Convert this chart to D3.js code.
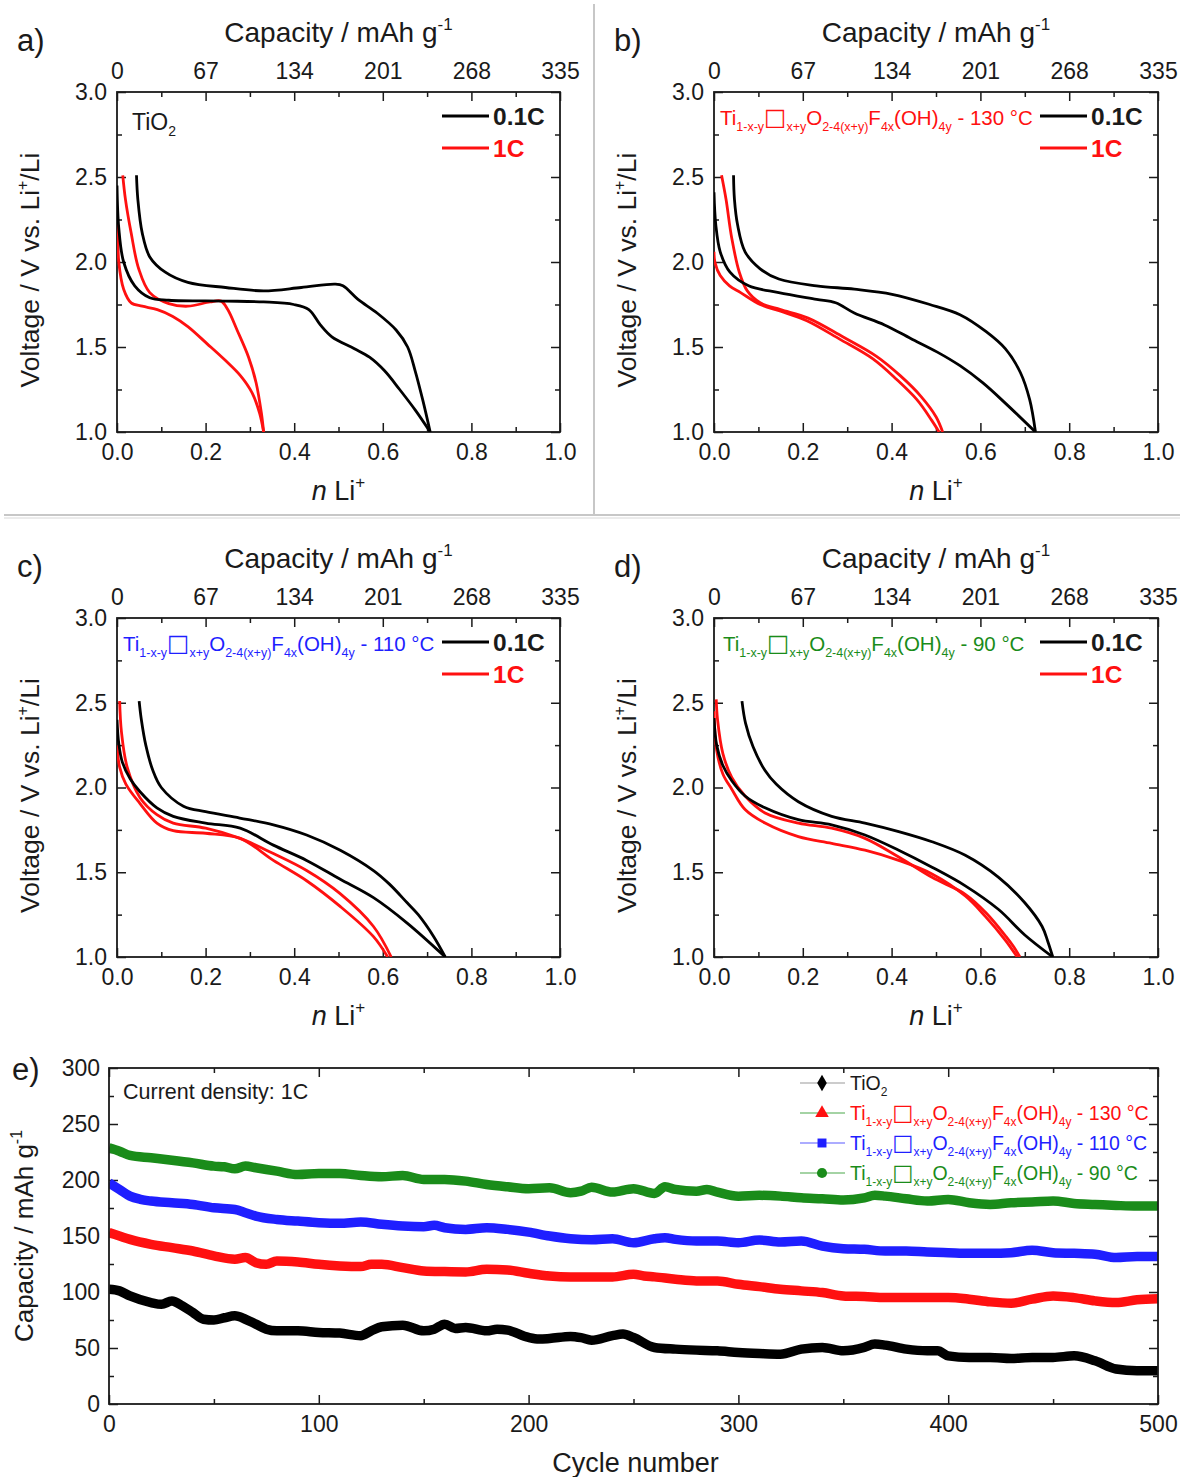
<!DOCTYPE html>
<html>
<head>
<meta charset="utf-8">
<script src="https://cdn.jsdelivr.net/npm/d3@7"></script>
<style>
  body { margin: 0; background: #fff; }
  svg text { font-family: "Liberation Sans", Arial, sans-serif; fill: #1a1a1a; }
</style>
</head>
<body>
<svg id="fig" width="1180" height="1477"></svg>
<script>
// ---- tick values ----
const nLiTicks = [0, 0.2, 0.4, 0.6, 0.8, 1.0];
const nLiMinor = [0.1, 0.3, 0.5, 0.7, 0.9];
const capTicks = [0, 67, 134, 201, 268, 335];
const voltTicks = [1.0, 1.5, 2.0, 2.5, 3.0];
const voltMinor = [1.25, 1.75, 2.25, 2.75];
const cycleTicks = [0, 100, 200, 300, 400, 500];
const cycleMinor = [50, 150, 250, 350, 450];
const capETicks = [0, 50, 100, 150, 200, 250, 300];
const capEMinor = [25, 75, 125, 175, 225, 275];

// ---- voltage profiles [n Li+, V] ----
// a) TiO2
const a_01C_dis = [[0.0,2.45],[0.004,2.2],[0.015,2.0],[0.04,1.86],[0.074,1.79],[0.117,1.775],[0.245,1.77],[0.331,1.765],[0.399,1.75],[0.433,1.72],[0.459,1.63],[0.485,1.56],[0.536,1.49],[0.570,1.44],[0.604,1.36],[0.638,1.25],[0.673,1.13],[0.707,1.0]];
const a_01C_cha = [[0.707,1.0],[0.69,1.19],[0.673,1.36],[0.656,1.50],[0.63,1.60],[0.587,1.70],[0.544,1.78],[0.51,1.86],[0.493,1.87],[0.416,1.85],[0.331,1.83],[0.245,1.85],[0.16,1.88],[0.109,1.94],[0.074,2.03],[0.057,2.17],[0.047,2.37],[0.044,2.51]];
const a_1C_dis = [[0.0,2.29],[0.002,2.15],[0.004,2.0],[0.015,1.84],[0.032,1.76],[0.057,1.74],[0.091,1.72],[0.126,1.68],[0.16,1.62],[0.203,1.52],[0.245,1.42],[0.279,1.33],[0.305,1.23],[0.322,1.11],[0.331,1.0]];
const a_1C_cha = [[0.331,1.0],[0.326,1.11],[0.314,1.29],[0.297,1.44],[0.271,1.60],[0.25,1.72],[0.235,1.77],[0.21,1.765],[0.16,1.74],[0.117,1.755],[0.074,1.82],[0.049,1.96],[0.032,2.17],[0.019,2.37],[0.013,2.51]];
// b) 130 °C
const b_01C_dis = [[0.0,2.41],[0.004,2.22],[0.014,2.06],[0.036,1.94],[0.078,1.86],[0.146,1.82],[0.231,1.78],[0.274,1.76],[0.316,1.70],[0.384,1.63],[0.443,1.55],[0.503,1.47],[0.554,1.39],[0.605,1.29],[0.656,1.17],[0.724,1.0]];
const b_01C_cha = [[0.724,1.0],[0.711,1.19],[0.69,1.35],[0.656,1.49],[0.613,1.59],[0.554,1.69],[0.486,1.75],[0.401,1.81],[0.316,1.84],[0.231,1.86],[0.146,1.90],[0.104,1.96],[0.07,2.06],[0.053,2.22],[0.046,2.37],[0.044,2.51]];
const b_1C_dis = [[0.0,2.06],[0.002,2.0],[0.014,1.92],[0.035,1.86],[0.06,1.82],[0.104,1.75],[0.15,1.71],[0.209,1.655],[0.284,1.545],[0.358,1.43],[0.411,1.31],[0.457,1.19],[0.49,1.07],[0.507,1.0]];
const b_1C_cha = [[0.515,1.0],[0.50,1.09],[0.466,1.21],[0.42,1.33],[0.366,1.445],[0.29,1.56],[0.212,1.67],[0.15,1.72],[0.104,1.76],[0.075,1.83],[0.057,1.94],[0.04,2.14],[0.027,2.37],[0.017,2.51]];
// c) 110 °C
const c_01C_dis = [[0.0,2.40],[0.004,2.26],[0.012,2.15],[0.03,2.05],[0.052,1.975],[0.09,1.88],[0.127,1.83],[0.2,1.79],[0.278,1.76],[0.353,1.66],[0.428,1.57],[0.503,1.46],[0.579,1.35],[0.655,1.20],[0.741,1.0]];
const c_01C_cha = [[0.741,1.0],[0.715,1.12],[0.68,1.25],[0.655,1.32],[0.615,1.43],[0.579,1.51],[0.504,1.63],[0.428,1.72],[0.353,1.78],[0.277,1.82],[0.2,1.857],[0.15,1.89],[0.1,2.0],[0.081,2.10],[0.065,2.25],[0.055,2.40],[0.05,2.51]];
const c_1C_dis = [[0.0,2.25],[0.006,2.12],[0.02,2.02],[0.052,1.905],[0.09,1.79],[0.127,1.745],[0.2,1.73],[0.278,1.70],[0.353,1.57],[0.428,1.45],[0.503,1.30],[0.579,1.12],[0.611,1.0]];
const c_1C_cha = [[0.619,1.0],[0.579,1.18],[0.503,1.375],[0.428,1.51],[0.353,1.61],[0.278,1.70],[0.2,1.76],[0.127,1.79],[0.09,1.84],[0.052,1.94],[0.023,2.12],[0.01,2.33],[0.006,2.51]];
// d) 90 °C
const d_01C_dis = [[0.0,2.41],[0.006,2.25],[0.02,2.13],[0.04,2.04],[0.07,1.95],[0.115,1.88],[0.19,1.81],[0.265,1.78],[0.34,1.72],[0.416,1.63],[0.491,1.53],[0.566,1.42],[0.641,1.28],[0.70,1.13],[0.763,1.0]];
const d_01C_cha = [[0.763,1.0],[0.752,1.09],[0.739,1.18],[0.70,1.32],[0.641,1.47],[0.566,1.60],[0.491,1.68],[0.416,1.74],[0.34,1.79],[0.265,1.83],[0.19,1.916],[0.14,2.02],[0.115,2.10],[0.088,2.24],[0.071,2.38],[0.063,2.51]];
const d_1C_dis = [[0.0,2.45],[0.006,2.22],[0.02,2.08],[0.04,1.99],[0.07,1.87],[0.115,1.79],[0.19,1.71],[0.265,1.67],[0.34,1.63],[0.416,1.57],[0.491,1.49],[0.566,1.36],[0.611,1.24],[0.656,1.10],[0.683,1.0]];
const d_1C_cha = [[0.689,1.0],[0.675,1.06],[0.658,1.12],[0.613,1.26],[0.566,1.37],[0.491,1.47],[0.416,1.59],[0.34,1.70],[0.265,1.76],[0.19,1.79],[0.115,1.85],[0.07,1.95],[0.04,2.06],[0.02,2.2],[0.008,2.4],[0.005,2.52]];

// ---- cycling at 1C [cycle, capacity mAh/g] ----
const cycTiO2 = [[0,102.5],[5,101],[10,96.5],[20,90.6],[25,89],[30,92],[35,87.6],[40,81.7],[45,75.7],[50,75],[55,77],[60,78.7],[65,75.7],[70,71.3],[75,66.8],[80,65.3],[90,65.3],[100,63.9],[110,63.3],[120,61],[125,65.3],[130,69],[140,70.4],[150,65.3],[155,66.8],[160,71.3],[165,67.4],[170,68.3],[180,65.3],[185,66.8],[190,66],[200,59.4],[205,58],[210,58.5],[220,60.3],[225,59.2],[230,57],[240,61],[245,62.4],[250,59.4],[260,50.5],[270,49],[280,48.1],[290,47.5],[300,46],[310,45.1],[320,44.5],[330,49],[340,50.5],[350,47.5],[360,50.5],[365,53.5],[370,52.6],[380,49],[390,47.5],[395,47.5],[400,43],[410,41.6],[420,41.6],[430,40.7],[440,41.6],[450,41.6],[460,43],[470,38.6],[480,31.2],[490,29.7],[500,29.7]];
const cyc130 = [[0,153],[5,150],[10,147],[20,142.6],[30,139.6],[40,136.6],[50,132.2],[60,129.2],[65,130.7],[70,126.2],[75,124.7],[80,127.7],[90,126.8],[100,124.7],[110,123.3],[120,122.7],[125,124.7],[130,124.7],[140,121.8],[150,118.8],[160,118.2],[170,117.9],[180,120.3],[190,119.7],[200,116.7],[210,114.3],[220,113.5],[230,113.5],[240,113.5],[250,115.8],[255,114.3],[260,113.5],[270,111.4],[280,109.9],[290,109.9],[300,106.9],[310,104.8],[320,102.5],[330,101],[340,99.5],[350,96.5],[360,95.9],[370,95],[380,95],[390,95],[400,95],[410,93.6],[420,91.2],[430,90],[440,93.6],[450,96.5],[460,95],[470,92.1],[480,90.6],[490,93],[500,94]];
const cyc110 = [[0,197.5],[5,191.6],[10,185.6],[15,182.7],[20,181.2],[30,179.7],[40,178.2],[50,175.2],[60,173.7],[65,170.8],[70,167.8],[80,164.8],[90,163.3],[100,161.9],[110,161.3],[120,162.5],[130,160.4],[140,158.9],[150,158.3],[155,159.5],[160,157.4],[170,155.9],[180,157.4],[190,155.9],[200,153.5],[210,150],[220,147.6],[230,146.7],[240,147.6],[250,144],[260,147.6],[265,148.5],[270,147],[280,145.5],[290,145.5],[300,144],[310,146.4],[320,144.6],[330,145.5],[340,141],[350,138.7],[360,138.1],[370,136.6],[380,136.6],[390,135.7],[400,135.1],[410,134.5],[420,134.5],[430,135.1],[440,137.2],[450,135.1],[460,134.5],[470,133.7],[480,130.7],[490,131.6],[500,131.6]];
const cyc90 = [[0,228.7],[5,225.7],[10,221.9],[20,219.8],[30,217.7],[40,215.3],[50,212.4],[55,211.8],[60,210],[65,212.4],[70,210.9],[80,207.9],[90,204.9],[100,205.8],[110,205.8],[120,204],[130,202.9],[140,204],[150,200.5],[160,200.5],[170,199],[180,196],[190,193.9],[200,192.2],[210,193],[220,188.6],[225,190],[230,193.5],[240,189.2],[250,192.2],[260,188],[265,193.9],[270,191.6],[280,190],[285,191.6],[290,189.2],[300,185.6],[310,186.3],[320,185.6],[330,184.1],[340,183.2],[350,182.1],[360,184.1],[365,186.3],[370,185.6],[380,183.2],[390,181.2],[400,182.7],[410,179.7],[420,178.2],[430,179.7],[440,180.3],[450,181.2],[460,179.1],[470,178.2],[480,177.3],[490,176.7],[500,176.7]];

const RED = '#ff1010', BLUE = '#1f1fff', GREEN = '#1a8c1a';

const svg = d3.select('#fig');

// separators between panels
svg.append('line').attr('x1', 594).attr('x2', 594).attr('y1', 4).attr('y2', 514)
  .attr('stroke', '#b4b4b4').attr('stroke-width', 1.5);
svg.append('line').attr('x1', 4).attr('x2', 1180).attr('y1', 515).attr('y2', 515)
  .attr('stroke', '#b4b4b4').attr('stroke-width', 1.5);
svg.append('line').attr('x1', 4).attr('x2', 1180).attr('y1', 518).attr('y2', 518)
  .attr('stroke', '#d8d8d8').attr('stroke-width', 1);

// Ti(1-x-y)□(x+y)O(2-4(x+y))F(4x)(OH)(4y) label with subscripts
function formula(g, x, y, suffix, color, size, subSize) {
  const t = g.append('text').attr('x', x).attr('y', y).attr('font-size', size)
    .style('fill', color);
  const parts = [['Ti', 0], ['1-x-y', 1], ['\u25A1', 2], ['x+y', 1], ['O', 0],
    ['2-4(x+y)', 1], ['F', 0], ['4x', 1], ['(OH)', 0], ['4y', 1], [suffix, 0]];
  let down = false;
  parts.forEach(([s, kind]) => {
    const ts = t.append('tspan').text(s);
    if (kind === 1) { ts.attr('font-size', subSize).attr('dy', down ? 0 : 6); down = true; }
    else {
      ts.attr('dy', down ? -6 : 0); down = false;
      if (kind === 2) ts.attr('font-size', size * 1.15).attr('font-family', 'DejaVu Sans');
    }
  });
  return t;
}

function frameTicks(g, axis) {
  g.call(axis);
  g.select('.domain').remove();
  g.selectAll('.tick line').attr('stroke', '#1a1a1a').attr('stroke-width', 1.5);
}

// ---- panels a-d ----
const panels = [
  { tag: 'a)', left: 117, right: 560, top: 92, bottom: 432, dis01: a_01C_dis, cha01: a_01C_cha, dis1: a_1C_dis, cha1: a_1C_cha, label: 'TiO2' },
  { tag: 'b)', left: 714, right: 1158, top: 92, bottom: 432, dis01: b_01C_dis, cha01: b_01C_cha, dis1: b_1C_dis, cha1: b_1C_cha, label: ' - 130 \u00B0C', color: RED },
  { tag: 'c)', left: 117, right: 560, top: 618, bottom: 957, dis01: c_01C_dis, cha01: c_01C_cha, dis1: c_1C_dis, cha1: c_1C_cha, label: ' - 110 \u00B0C', color: BLUE },
  { tag: 'd)', left: 714, right: 1158, top: 618, bottom: 957, dis01: d_01C_dis, cha01: d_01C_cha, dis1: d_1C_dis, cha1: d_1C_cha, label: ' - 90 \u00B0C', color: GREEN }
];

panels.forEach((p, i) => {
  const w = p.right - p.left, h = p.bottom - p.top;
  const g = svg.append('g').attr('transform', `translate(${p.left},${p.top})`);
  const x = d3.scaleLinear().domain([0, 1]).range([0, w]);
  const xCap = d3.scaleLinear().domain([0, 335]).range([0, w]);
  const y = d3.scaleLinear().domain([1, 3]).range([h, 0]);

  const clipId = 'clip' + i;
  g.append('clipPath').attr('id', clipId).append('rect').attr('width', w).attr('height', h);

  // axes with inward ticks
  const bx = g.append('g').attr('transform', `translate(0,${h})`);
  frameTicks(bx, d3.axisBottom(x).tickValues(nLiTicks).tickFormat(d3.format('.1f')).tickSizeInner(-9).tickSizeOuter(0).tickPadding(12));
  bx.selectAll('text').attr('font-size', 23);
  frameTicks(g.append('g').attr('transform', `translate(0,${h})`),
    d3.axisBottom(x).tickValues(nLiMinor).tickFormat('').tickSizeInner(-5).tickSizeOuter(0));

  const tx = g.append('g');
  frameTicks(tx, d3.axisTop(xCap).tickValues(capTicks).tickSizeInner(-9).tickSizeOuter(0).tickPadding(13));
  tx.selectAll('text').attr('font-size', 23);
  frameTicks(g.append('g'), d3.axisTop(x).tickValues(nLiMinor).tickFormat('').tickSizeInner(-5).tickSizeOuter(0));

  const ly = g.append('g');
  frameTicks(ly, d3.axisLeft(y).tickValues(voltTicks).tickFormat(d3.format('.1f')).tickSizeInner(-9).tickSizeOuter(0).tickPadding(10));
  ly.selectAll('text').attr('font-size', 23);
  frameTicks(g.append('g'), d3.axisLeft(y).tickValues(voltMinor).tickFormat('').tickSizeInner(-5).tickSizeOuter(0));
  frameTicks(g.append('g').attr('transform', `translate(${w},0)`),
    d3.axisRight(y).tickValues(voltTicks).tickFormat('').tickSizeInner(-9).tickSizeOuter(0));
  frameTicks(g.append('g').attr('transform', `translate(${w},0)`),
    d3.axisRight(y).tickValues(voltMinor).tickFormat('').tickSizeInner(-5).tickSizeOuter(0));

  g.append('rect').attr('width', w).attr('height', h).attr('fill', 'none')
    .attr('stroke', '#1a1a1a').attr('stroke-width', 1.8);

  // curves
  const line = d3.line().x(d => x(d[0])).y(d => y(d[1])).curve(d3.curveCatmullRom.alpha(0.5));
  const cg = g.append('g').attr('clip-path', `url(#${clipId})`);
  [[p.dis1, RED], [p.cha1, RED], [p.dis01, '#000'], [p.cha01, '#000']].forEach(([data, col]) => {
    cg.append('path').datum(data).attr('d', line).attr('fill', 'none')
      .attr('stroke', col).attr('stroke-width', 2.8).attr('stroke-linejoin', 'round');
  });

  // legend
  const lx = w - 118;
  g.append('line').attr('x1', lx).attr('x2', lx + 47).attr('y1', 24).attr('y2', 24).attr('stroke', '#000').attr('stroke-width', 2.8);
  g.append('text').attr('x', lx + 51).attr('y', 33).attr('font-size', 24.5).attr('font-weight', 'bold').text('0.1C');
  g.append('line').attr('x1', lx).attr('x2', lx + 47).attr('y1', 56).attr('y2', 56).attr('stroke', RED).attr('stroke-width', 2.8);
  g.append('text').attr('x', lx + 51).attr('y', 65).attr('font-size', 24.5).attr('font-weight', 'bold').style('fill', RED).text('1C');

  // sample label
  if (p.color) {
    formula(g, i === 3 ? 9 : 6, 33, p.label, p.color, 20.5, 12.5);
  } else {
    const t = g.append('text').attr('x', 15).attr('y', 38).attr('font-size', 23);
    t.append('tspan').text('TiO');
    t.append('tspan').attr('font-size', 14).attr('dy', 6).text('2');
  }

  // axis titles
  const tt = g.append('text').attr('x', w / 2).attr('y', -50).attr('text-anchor', 'middle').attr('font-size', 28);
  tt.append('tspan').text('Capacity / mAh g');
  tt.append('tspan').attr('font-size', 17).attr('dy', -12).text('-1');

  const bt = g.append('text').attr('x', w / 2).attr('y', h + 68).attr('text-anchor', 'middle').attr('font-size', 27);
  bt.append('tspan').attr('font-style', 'italic').text('n');
  bt.append('tspan').text(' Li');
  bt.append('tspan').attr('font-size', 17).attr('dy', -12).text('+');

  const yt = g.append('text').attr('transform', `translate(${-78},${h / 2 + 8}) rotate(-90)`)
    .attr('text-anchor', 'middle').attr('font-size', 26.5);
  yt.append('tspan').text('Voltage / V vs. Li');
  yt.append('tspan').attr('font-size', 16).attr('dy', -11).text('+');
  yt.append('tspan').attr('dy', 11).text('/Li');

  svg.append('text').attr('x', p.left - 100).attr('y', p.top - 41).attr('font-size', 31).text(p.tag);
});

// ---- panel e ----
{
  const left = 109, right = 1158, top = 1068, bottom = 1404;
  const w = right - left, h = bottom - top;
  const g = svg.append('g').attr('transform', `translate(${left},${top})`);
  const x = d3.scaleLinear().domain([0, 500]).range([0, w]);
  const y = d3.scaleLinear().domain([0, 300]).range([h, 0]);

  g.append('clipPath').attr('id', 'clipE').append('rect').attr('width', w).attr('height', h);

  const bx = g.append('g').attr('transform', `translate(0,${h})`);
  frameTicks(bx, d3.axisBottom(x).tickValues(cycleTicks).tickSizeInner(-9).tickSizeOuter(0).tickPadding(12));
  bx.selectAll('text').attr('font-size', 23);
  frameTicks(g.append('g').attr('transform', `translate(0,${h})`),
    d3.axisBottom(x).tickValues(cycleMinor).tickFormat('').tickSizeInner(-5).tickSizeOuter(0));
  frameTicks(g.append('g'), d3.axisTop(x).tickValues(cycleTicks).tickFormat('').tickSizeInner(-9).tickSizeOuter(0));
  frameTicks(g.append('g'), d3.axisTop(x).tickValues(cycleMinor).tickFormat('').tickSizeInner(-5).tickSizeOuter(0));

  const ly = g.append('g');
  frameTicks(ly, d3.axisLeft(y).tickValues(capETicks).tickSizeInner(-9).tickSizeOuter(0).tickPadding(9));
  ly.selectAll('text').attr('font-size', 23);
  frameTicks(g.append('g'), d3.axisLeft(y).tickValues(capEMinor).tickFormat('').tickSizeInner(-5).tickSizeOuter(0));
  frameTicks(g.append('g').attr('transform', `translate(${w},0)`),
    d3.axisRight(y).tickValues(capETicks).tickFormat('').tickSizeInner(-9).tickSizeOuter(0));
  frameTicks(g.append('g').attr('transform', `translate(${w},0)`),
    d3.axisRight(y).tickValues(capEMinor).tickFormat('').tickSizeInner(-5).tickSizeOuter(0));

  const line = d3.line().x(d => x(d[0])).y(d => y(d[1])).curve(d3.curveMonotoneX);
  const cg = g.append('g').attr('clip-path', 'url(#clipE)');
  [[cycTiO2, '#000'], [cyc130, RED], [cyc110, BLUE], [cyc90, GREEN]].forEach(([data, col]) => {
    cg.append('path').datum(data).attr('d', line).attr('fill', 'none')
      .attr('stroke', col).attr('stroke-width', 9.5).attr('stroke-linejoin', 'round').attr('stroke-linecap', 'butt');
  });

  g.append('rect').attr('width', w).attr('height', h).attr('fill', 'none')
    .attr('stroke', '#1a1a1a').attr('stroke-width', 1.8);

  g.append('text').attr('x', 14).attr('y', 31).attr('font-size', 21.5).text('Current density: 1C');

  // legend
  const legend = [
    { sym: d3.symbolDiamond, fill: '#000', line: '#999', text: 'TiO2' },
    { sym: d3.symbolTriangle, fill: RED, line: '#4aa84a', text: ' - 130 \u00B0C', color: RED },
    { sym: d3.symbolSquare, fill: BLUE, line: '#5a5aff', text: ' - 110 \u00B0C', color: BLUE },
    { sym: d3.symbolCircle, fill: GREEN, line: '#4aa84a', text: ' - 90 \u00B0C', color: GREEN }
  ];
  legend.forEach((L, k) => {
    const ly0 = 15 + k * 30;
    g.append('line').attr('x1', 691).attr('x2', 736).attr('y1', ly0).attr('y2', ly0)
      .attr('stroke', L.line).attr('stroke-width', 1.2);
    g.append('path').attr('d', d3.symbol().type(L.sym).size(80))
      .attr('transform', `translate(713,${ly0})`).attr('fill', L.fill);
    if (L.color) {
      formula(g, 741, ly0 + 7, L.text, L.color, 19.5, 12);
    } else {
      const t = g.append('text').attr('x', 741).attr('y', ly0 + 7).attr('font-size', 19.5);
      t.append('tspan').text('TiO');
      t.append('tspan').attr('font-size', 12).attr('dy', 6).text('2');
    }
  });

  g.append('text').attr('x', w / 2 + 2).attr('y', h + 68).attr('text-anchor', 'middle').attr('font-size', 27).text('Cycle number');
  const yt = g.append('text').attr('transform', `translate(${-76},${h / 2}) rotate(-90)`)
    .attr('text-anchor', 'middle').attr('font-size', 26);
  yt.append('tspan').text('Capacity / mAh g');
  yt.append('tspan').attr('font-size', 16).attr('dy', -11).text('-1');

  svg.append('text').attr('x', 12).attr('y', 1080).attr('font-size', 31).text('e)');
}
</script>
</body>
</html>
